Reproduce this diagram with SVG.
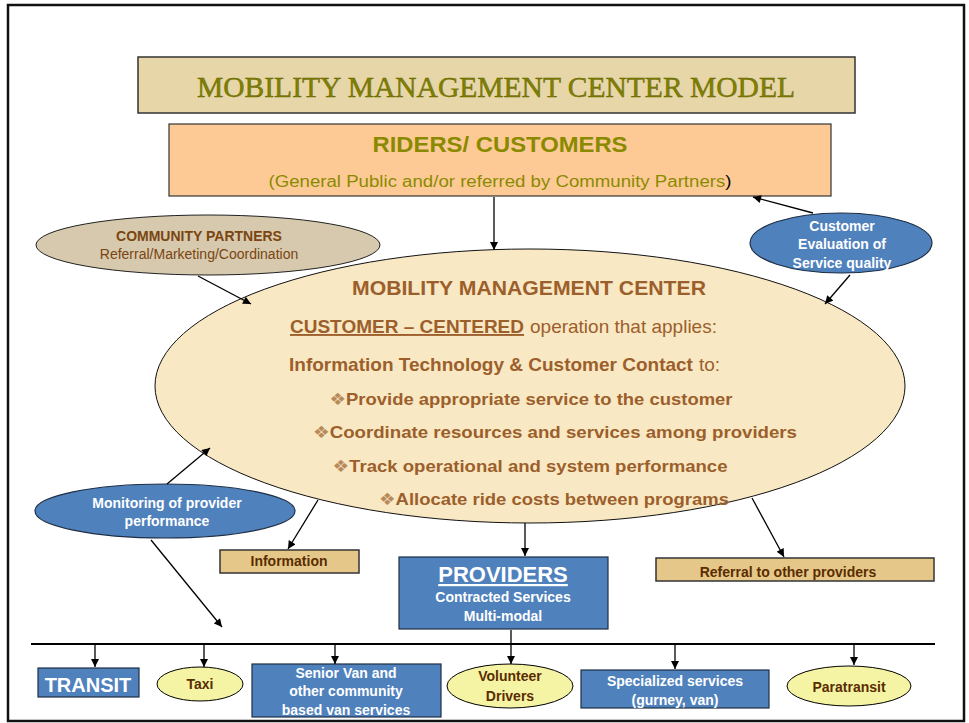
<svg xmlns="http://www.w3.org/2000/svg" width="969" height="723" viewBox="0 0 969 723">
<defs>
<marker id="ah" viewBox="0 0 10 10" refX="10" refY="5" markerWidth="9" markerHeight="8" markerUnits="userSpaceOnUse" orient="auto">
<path d="M0,0 L10,5 L0,10 z" fill="#000"/>
</marker>
<style>
text{font-family:"Liberation Sans",Arial,sans-serif;text-anchor:middle}
.b{font-weight:bold}
.w{fill:#ffffff;font-weight:bold;font-size:14px}
.mmc{fill:#9c5f2b;font-weight:bold}
.st{text-anchor:start}
.bul{font-family:"DejaVu Sans",sans-serif;font-weight:normal;fill:#b88a5a}
.brn{fill:#5a2c00;font-weight:bold;font-size:14px}
.blue{fill:#4f81bd;stroke:#1f2f45;stroke-width:1.2}
.tan{fill:#e5c889;stroke:#333;stroke-width:1.5}
.yel{fill:#f4f4a4;stroke:#000;stroke-width:1}
.con{stroke:#000;stroke-width:1.3;fill:none;marker-end:url(#ah)}
</style>
</defs>
<rect x="0" y="0" width="969" height="723" fill="#fff"/>
<rect x="8" y="5" width="956" height="716" fill="none" stroke="#111" stroke-width="2.5"/>

<g id="title">
<rect x="138" y="57" width="717" height="56" fill="#e6d6a8" stroke="#333" stroke-width="1.5"/>
<text x="496" y="97" style="font-family:'Liberation Serif',serif;font-size:30px" fill="#808000" stroke="#5f5f00" stroke-width="0.4" textLength="598" lengthAdjust="spacingAndGlyphs">MOBILITY MANAGEMENT CENTER MODEL</text>
</g>

<g id="riders">
<rect x="169" y="124" width="662" height="72" fill="#fdca96" stroke="#333" stroke-width="1.2"/>
<text x="500" y="152" class="b" style="font-size:22px" fill="#8a8a00" textLength="255" lengthAdjust="spacingAndGlyphs">RIDERS/ CUSTOMERS</text>
<text x="500" y="187" style="font-size:16px" fill="#8a8a00" textLength="463" lengthAdjust="spacingAndGlyphs">(General Public and/or referred by Community Partners<tspan fill="#000">)</tspan></text>
</g>

<g id="community-partners">
<ellipse cx="208" cy="245" rx="172" ry="30" fill="#d6c9ae" stroke="#222" stroke-width="1"/>
<text x="199" y="241" class="b" style="font-size:14px" fill="#7a4510">COMMUNITY PARTNERS</text>
<text x="199" y="259" style="font-size:14px" fill="#7a4510">Referral/Marketing/Coordination</text>
</g>

<g id="customer-evaluation">
<ellipse cx="841" cy="243" rx="91" ry="30" class="blue"/>
<text x="842" y="231" class="w">Customer</text>
<text x="842" y="249" class="w">Evaluation of</text>
<text x="842" y="268" class="w">Service quality</text>
</g>

<g id="mmc">
<ellipse cx="530" cy="386" rx="375" ry="137" fill="#f8e8c4" stroke="#111" stroke-width="1"/>
<text x="529" y="295" class="mmc" style="font-size:21px" textLength="354" lengthAdjust="spacingAndGlyphs">MOBILITY MANAGEMENT CENTER</text>
<text x="290" y="333" class="mmc st" style="font-size:19px" text-decoration="underline">CUSTOMER – CENTERED</text>
<text x="530" y="333" class="mmc st" style="font-size:19px;font-weight:normal">operation that applies:</text>
<text x="289" y="371" class="mmc st" style="font-size:19px">Information Technology &amp; Customer Contact</text>
<text x="699" y="371" class="mmc st" style="font-size:19px;font-weight:normal">to:</text>
<text x="531" y="405" class="mmc" style="font-size:17px" textLength="403" lengthAdjust="spacingAndGlyphs"><tspan class="bul">❖</tspan>Provide appropriate service to the customer</text>
<text x="555" y="438" class="mmc" style="font-size:17px" textLength="484" lengthAdjust="spacingAndGlyphs"><tspan class="bul">❖</tspan>Coordinate resources and services among  providers</text>
<text x="530" y="472" class="mmc" style="font-size:17px" textLength="395" lengthAdjust="spacingAndGlyphs"><tspan class="bul">❖</tspan>Track operational and system performance</text>
<text x="554" y="505" class="mmc" style="font-size:17px" textLength="350" lengthAdjust="spacingAndGlyphs"><tspan class="bul">❖</tspan>Allocate ride costs between programs</text>
</g>

<g id="monitoring">
<ellipse cx="165" cy="511" rx="130" ry="27" class="blue"/>
<text x="167" y="508" class="w">Monitoring of provider</text>
<text x="167" y="526" class="w">performance</text>
</g>

<g id="information">
<rect x="220" y="550" width="139" height="23" class="tan"/>
<text x="289" y="566" class="brn">Information</text>
</g>

<g id="providers">
<rect x="399" y="557" width="209" height="72" class="blue" stroke-width="1.5"/>
<text x="503" y="582" class="b" style="font-size:22px" fill="#fff" text-decoration="underline">PROVIDERS</text>
<text x="503" y="602" class="w">Contracted Services</text>
<text x="503" y="621" class="w">Multi-modal</text>
</g>

<g id="referral">
<rect x="656" y="558" width="278" height="23" class="tan"/>
<text x="788" y="577" class="brn">Referral to other providers</text>
</g>

<g id="transit">
<rect x="38" y="668" width="101" height="29" class="blue"/>
<text x="88" y="692" class="b" style="font-size:20px" fill="#fff">TRANSIT</text>
</g>

<g id="taxi">
<ellipse cx="200" cy="684" rx="43" ry="17" class="yel"/>
<text x="200" y="689" class="brn">Taxi</text>
</g>

<g id="senior-van">
<rect x="252" y="664" width="189" height="53" class="blue"/>
<text x="346" y="678" class="w">Senior Van and</text>
<text x="346" y="696" class="w">other community</text>
<text x="346" y="715" class="w">based van services</text>
</g>

<g id="volunteer">
<ellipse cx="510" cy="686" rx="63" ry="22" class="yel"/>
<text x="510" y="681" class="brn">Volunteer</text>
<text x="510" y="701" class="brn">Drivers</text>
</g>

<g id="specialized">
<rect x="581" y="670" width="188" height="38" class="blue"/>
<text x="675" y="686" class="w">Specialized services</text>
<text x="675" y="705" class="w">(gurney, van)</text>
</g>

<g id="paratransit">
<ellipse cx="849" cy="686" rx="62" ry="20" class="yel"/>
<text x="849" y="692" class="brn">Paratransit</text>
</g>

<g id="connectors">
<line x1="494" y1="197" x2="494" y2="250" class="con"/>
<line x1="198" y1="276" x2="251" y2="304" class="con"/>
<line x1="813" y1="213" x2="753" y2="197" class="con"/>
<line x1="850" y1="275" x2="825" y2="304" class="con"/>
<line x1="167" y1="484" x2="210" y2="448" class="con"/>
<line x1="151" y1="540" x2="222" y2="627" class="con"/>
<line x1="318" y1="500" x2="288" y2="549" class="con"/>
<line x1="525" y1="523" x2="525" y2="556" class="con"/>
<line x1="752" y1="498" x2="784" y2="557" class="con"/>
<line x1="511" y1="630" x2="511" y2="664" class="con"/>
<line x1="31" y1="644" x2="935" y2="644" stroke="#000" stroke-width="2"/>
<line x1="95" y1="644" x2="95" y2="667" class="con"/>
<line x1="204" y1="644" x2="204" y2="667" class="con"/>
<line x1="335" y1="644" x2="335" y2="664" class="con"/>
<line x1="675" y1="644" x2="675" y2="669" class="con"/>
<line x1="854" y1="644" x2="854" y2="665" class="con"/>
</g>
</svg>
